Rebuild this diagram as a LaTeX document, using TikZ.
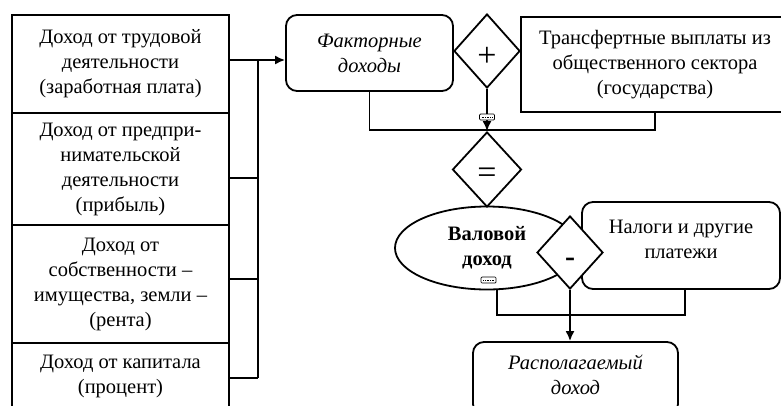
\documentclass[tikz,border=0pt]{standalone}
\usepackage{fontspec}
\setmainfont{Liberation Serif}
\usetikzlibrary{shapes.geometric,arrows.meta}
\begin{document}
\begin{tikzpicture}[x=1pt,y=-1pt,line width=1.8pt,
  txt/.style={font=\fontsize{20.5}{25}\selectfont,align=center,inner sep=0pt},
  srcbox/.style={txt,draw,rectangle,minimum width=217pt},
  rbox/.style={txt,draw,fill=white,rectangle,rounded corners=11pt},
  sign/.style={draw,fill=white,diamond,inner sep=0pt},
  signtxt/.style={inner sep=0pt,font=\fontsize{34}{34}\selectfont},
  arr/.style={-{Latex[length=10pt,width=9pt]}},
  tag/.style={draw,fill=white,rectangle,rounded corners=1pt,line width=0.7pt,minimum width=15pt,minimum height=6pt,inner sep=0pt}]
\useasboundingbox (0,0) rectangle (781,405);
\clip (0,0) rectangle (781,405);
% sources
\node[srcbox,minimum height=98pt] (box1) at (120.5,64) {Доход от трудовой\\деятельности\\(заработная плата)};
\node[srcbox,minimum height=112pt] (box2) at (120.5,169) {Доход от предпри-\\нимательской\\деятельности\\(прибыль)};
\node[srcbox,minimum height=118pt] (box3) at (120.5,284) {Доход от\\собственности –\\имущества, земли –\\(рента)};
\node[srcbox,minimum height=66pt,text depth=4pt] (box4) at (120.5,376) {Доход от капитала\\(процент)};
% upper row
\node[rbox,minimum width=167pt,minimum height=76pt,font=\fontsize{20.5}{25}\selectfont\itshape] (fact) at (369.5,53) {Факторные\\доходы};
\node[sign,minimum width=66pt,minimum height=74pt,label={[signtxt,yshift=-6pt]center:+}] (plus) at (487,51) {};
\node[txt,draw,rectangle,minimum width=268pt,minimum height=95pt] (transfer) at (655,64.5) {Трансфертные выплаты из\\общественного сектора\\(государства)};
% bus
\coordinate (bus) at (258,60);
\coordinate (b2) at (258,178);
\coordinate (b3) at (258,279);
\coordinate (b4) at (258,378);
\draw (box1.east |- bus) -- (bus);
\draw[arr] (bus) -- (fact.west |- bus);
\draw (bus) -- (b4);
\draw (box2.east |- b2) -- (b2);
\draw (box3.east |- b3) -- (b3);
\draw (box4.east |- b4) -- (b4);
\coordinate (sumline) at (487,130);
\draw (fact.south) -- (fact.south |- sumline) -- (transfer.south |- sumline) -- (transfer.south);
% middle
\node[txt,draw,fill=white,ellipse,minimum width=184pt,minimum height=83pt,font=\fontsize{20.5}{25}\selectfont\bfseries] (gross) at (487,248) {Валовой\\доход};
\node[sign,minimum width=69pt,minimum height=75pt,label={[signtxt,yshift=-6pt]center:=}] (eq) at (487,169.5) {};
\draw[arr] (plus.south) -- (eq.north);
\node[tag] (tagA) at (487,117) {};
\draw[line width=0.4pt,dash pattern=on 1pt off 0.7pt] ([xshift=2.5pt]tagA.west) -- ([xshift=-2.5pt]tagA.east);
% lower row
\node[tag] (tagB) at (488.5,280) {};
\draw[line width=0.4pt,dash pattern=on 1pt off 0.7pt] ([xshift=2.5pt]tagB.west) -- ([xshift=-2.5pt]tagB.east);
\node[rbox,minimum width=198pt,minimum height=87pt,text depth=12pt] (tax) at (681,245.5) {Налоги и другие\\платежи};
\node[sign,minimum width=66pt,minimum height=73pt,label={[signtxt,yshift=-10pt,font=\fontsize{30}{30}\selectfont\bfseries]center:-}] (minus) at (570,252.5) {};
\coordinate (dl) at (497,315);
\coordinate (dr) at (685,315);
\draw (dl |- gross.south) -- (dl) -- (dr) -- (dr |- tax.south);
\node[rbox,minimum width=205pt,minimum height=73pt,text depth=8pt,font=\fontsize{20.5}{25}\selectfont\itshape] (disp) at (575.5,378.5) {Располагаемый\\доход};
\draw[arr] (minus.south) -- (minus.south |- disp.north);
\end{tikzpicture}
\end{document}
